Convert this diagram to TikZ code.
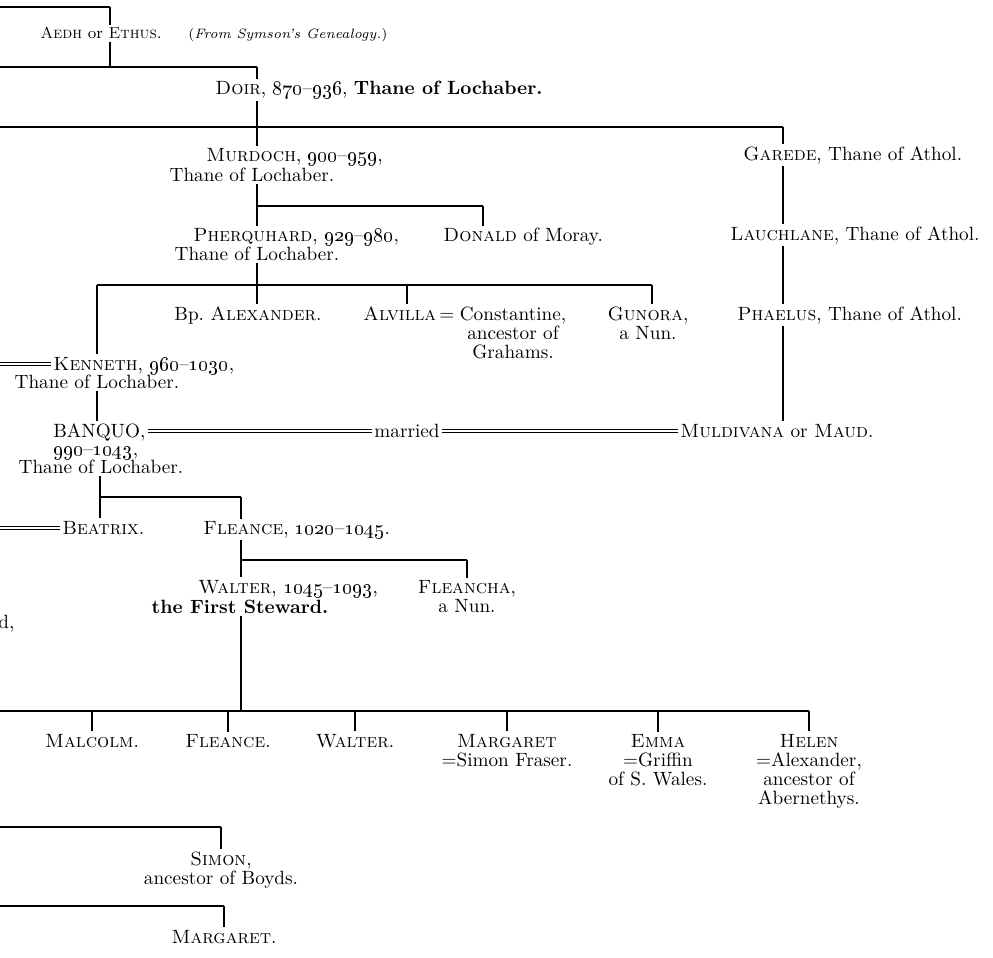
\documentclass[tikz,border=0pt]{standalone}
\usepackage{tikz}

\newcommand{\yrs}[2]{\oldstylenums{#1}\textendash\oldstylenums{#2}}

\begin{document}
\begin{tikzpicture}[x=0.5pt,y=-0.5pt,
    every node/.style={inner sep=1pt, font=\fontsize{9.6}{9.5}\selectfont},
    line/.style={line width=0.7pt},
    wed/.style={double, double distance=1.2pt, line width=0.4pt}]
  \useasboundingbox (0,0) rectangle (993,958);
  \coordinate (edge) at (0,0);

  % lines of descent
  \coordinate (cA) at (110,0);
  \coordinate (cB) at (257,0);
  \coordinate (cD) at (483,0);
  \coordinate (cG) at (783,0);
  \coordinate (cAl) at (407,0);
  \coordinate (cGu) at (652,0);
  \coordinate (cK) at (97,0);
  \coordinate (cK2) at (100,0);
  \coordinate (cF) at (241,0);
  \coordinate (cFc) at (467,0);

  % bars
  \coordinate (bar1) at (0,7);
  \coordinate (bar2) at (0,67);
  \coordinate (bar3) at (0,127);
  \coordinate (barD) at (0,206);
  \coordinate (bar4) at (0,285);
  \coordinate (bar5) at (0,497);
  \coordinate (barF) at (0,560);
  \coordinate (bar6) at (0,711);
  \coordinate (bar7) at (0,827);
  \coordinate (bar8) at (0,906);

  % Aedh and Doir
  \node[anchor=base west, font=\fontsize{8}{8}\selectfont] (aedh) at (38,39) {\textsc{Aedh} or \textsc{Ethus}.};
  \node[anchor=base west, font=\fontsize{6.8}{7}\selectfont] (source) at (186,39) {(\textit{From Symson's Genealogy.})};
  \node[anchor=base west] (doir) at (213,95) {\textsc{Doir}, \yrs{870}{936}, \textbf{Thane of Lochaber.}};

  % sons of Doir
  \node[anchor=base west] (murdoch) at (204,162) {\textsc{Murdoch}, \yrs{900}{959},};
  \node[anchor=base] (murdochT) at (252,181) {Thane of Lochaber.};
  \node[anchor=base west] (garede) at (741,160) {\textsc{Garede}, Thane of Athol.};
  \node[anchor=base west] (pherq) at (191,242) {\textsc{Pherquhard}, \yrs{929}{980},};
  \node[anchor=base] (pherqT) at (257,260) {Thane of Lochaber.};
  \node[anchor=base west] (donald) at (441,242) {\textsc{Donald} of Moray.};
  \node[anchor=base west] (lauchlane) at (728,240) {\textsc{Lauchlane}, Thane of Athol.};
  \node[anchor=base west] (phaelus) at (735,320) {\textsc{Phaelus}, Thane of Athol.};

  % children of Pherquhard (multi-line nodes sit on their last line)
  \node[anchor=base] (alexander) at (248,320) {Bp.\ \textsc{Alexander}.};
  \node[anchor=base west] (alvilla) at (361,320) {\textsc{Alvilla}\,=};
  \node[anchor=base, align=center] (constantine) at (513,358) {Constantine,\\ ancestor of\\ Grahams.};
  \node[anchor=base, align=center] (gunora) at (648,339) {\textsc{Gunora},\\ a Nun.};
  \node[anchor=base west] (kenneth) at (51,370) {\textsc{Kenneth}, \yrs{960}{1030},};
  \node[anchor=base] (kennethT) at (97,388) {Thane of Lochaber.};

  % Banquo
  \node[anchor=base west] (banquo) at (51,437) {BANQUO,};
  \node[anchor=base west] (banquoD) at (51,455) {\yrs{990}{1043},};
  \node[anchor=base] (banquoT) at (101,473) {Thane of Lochaber.};
  \node[anchor=base] (married) at (407,437) {married};
  \node[anchor=base west] (muldivana) at (678,437) {\textsc{Muldivana} or \textsc{Maud}.};
  \node[anchor=base west] (beatrix) at (60,534) {\textsc{Beatrix}.};
  \node[anchor=base west] (fleance) at (201,534) {\textsc{Fleance}, \yrs{1020}{1045}.};

  % Walter
  \node[anchor=base west] (walter) at (196,593) {\textsc{Walter}, \yrs{1045}{1093},};
  \node[anchor=base] (walterT) at (240,613) {\textbf{the First Steward.}};
  \node[anchor=base, align=center] (fleancha) at (467,612) {\textsc{Fleancha},\\ a Nun.};
  \node[anchor=base west] (frag) at (-4,628) {d,};

  % children of Walter
  \node[anchor=base] (malcolm) at (92,747) {\textsc{Malcolm}.};
  \node[anchor=base] (fleanceB) at (228,747) {\textsc{Fleance}.};
  \node[anchor=base] (walterB) at (355,747) {\textsc{Walter}.};
  \node[anchor=base, align=center] (margaret) at (507,766) {\textsc{Margaret}\\ =Simon Fraser.};
  \node[anchor=base, align=center] (emma) at (658,785) {\textsc{Emma}\\ =Griffin\\ of S. Wales.};
  \node[anchor=base, align=center] (helen) at (809,804) {\textsc{Helen}\\ =Alexander,\\ ancestor of\\ Abernethys.};
  \node[anchor=base, align=center] (simon) at (221,884) {\textsc{Simon},\\ ancestor of Boyds.};
  \node[anchor=base] (margaretB) at (224,943) {\textsc{Margaret}.};

  % horizontal bars
  \draw[line] (bar1) -- (bar1 -| cA);
  \draw[line] (bar2) -- (bar2 -| cB);
  \draw[line] (bar3) -- (bar3 -| cG);
  \draw[line] (barD -| cB) -- (barD -| cD);
  \draw[line] (bar4 -| cK) -- (bar4 -| cGu);
  \draw[line] (bar5 -| cK2) -- (bar5 -| cF);
  \draw[line] (barF -| cF) -- (barF -| cFc);
  \draw[line] (bar6) -- (bar6 -| helen.north);
  \draw[line] (bar7) -- (bar7 -| simon.north);
  \draw[line] (bar8) -- (bar8 -| margaretB.north);

  % vertical lines
  \draw[line] (bar1 -| cA) -- (aedh.north -| cA);
  \draw[line] (aedh.south -| cA) -- (bar2 -| cA);
  \draw[line] (bar2 -| cB) -- (doir.north -| cB);
  \draw[line] (doir.south -| cB) -- (murdoch.north -| cB);
  \draw[line] (murdochT.south -| cB) -- (pherq.north -| cB);
  \draw[line] (barD -| cD) -- (donald.north -| cD);
  \draw[line] (pherqT.south -| cB) -- (alexander.north -| cB);
  \draw[line] (bar4 -| cAl) -- (alvilla.north -| cAl);
  \draw[line] (bar4 -| cGu) -- (gunora.north -| cGu);
  \draw[line] (bar4 -| cK) -- (kenneth.north -| cK);
  \draw[line] (kennethT.south -| cK) -- (banquo.north -| cK);
  \draw[line] (banquoT.south -| cK2) -- (beatrix.north -| cK2);
  \draw[line] (bar5 -| cF) -- (fleance.north -| cF);
  \draw[line] (fleance.south -| cF) -- (walter.north -| cF);
  \draw[line] (barF -| cFc) -- (fleancha.north -| cFc);
  \draw[line] (walterT.south -| cF) -- (bar6 -| cF);
  \draw[line] (bar3 -| cG) -- (garede.north -| cG);
  \draw[line] (garede.south -| cG) -- (lauchlane.north -| cG);
  \draw[line] (lauchlane.south -| cG) -- (phaelus.north -| cG);
  \draw[line] (phaelus.south -| cG) -- (muldivana.north -| cG);

  % ticks to Walter's children
  \draw[line] (bar6 -| malcolm.north) -- (malcolm.north);
  \draw[line] (bar6 -| fleanceB.north) -- (fleanceB.north);
  \draw[line] (bar6 -| walterB.north) -- (walterB.north);
  \draw[line] (bar6 -| margaret.north) -- (margaret.north);
  \draw[line] (bar6 -| emma.north) -- (emma.north);
  \draw[line] (bar6 -| helen.north) -- (helen.north);
  \draw[line] (bar7 -| simon.north) -- (simon.north);
  \draw[line] (bar8 -| margaretB.north) -- (margaretB.north);

  % marriages
  \draw[wed, transform canvas={yshift=3pt}] (kenneth.base west -| edge) -- (kenneth.base west);
  \draw[wed, transform canvas={yshift=3pt}] (beatrix.base west -| edge) -- (beatrix.base west);
  \draw[wed, transform canvas={yshift=3pt}] (banquo.base east) -- (married.base west);
  \draw[wed, transform canvas={yshift=3pt}] (married.base east) -- (muldivana.base west);
\end{tikzpicture}
\end{document}
